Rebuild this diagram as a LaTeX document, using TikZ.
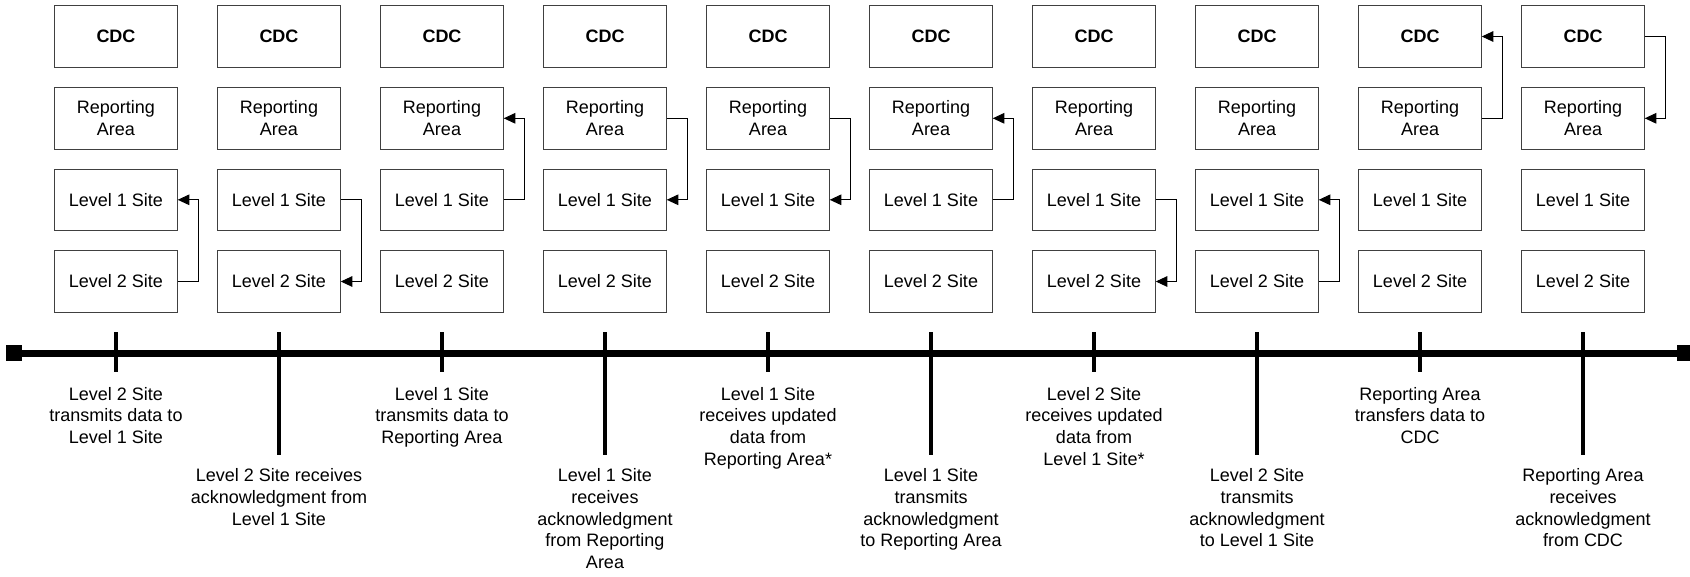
\documentclass[tikz,border=0pt]{standalone}
\usepackage{fontspec}
\setmainfont{Liberation Sans}
\usetikzlibrary{arrows.meta}
\begin{document}
\begin{tikzpicture}[x=1pt,y=-1pt,
  box/.style={draw=black!75, line width=1pt, minimum width=122.5pt, minimum height=61.5pt, inner sep=0pt, align=center, font=\fontsize{18}{21.5}\selectfont},
  conn/.style={line width=1pt, -{Triangle[length=11.5pt,width=10.5pt]}},
  lbl/.style={anchor=north, align=center, inner sep=0pt, font=\fontsize{18}{21.7}\selectfont},
  tick/.style={line width=3.2pt},
  endsq/.style={fill=black, minimum size=16pt, inner sep=0pt, draw=none}]
\useasboundingbox (0,0) rectangle (1690,576);
% boxes
\foreach \i in {1,...,10}{
  \pgfmathsetmacro{\cx}{116+163*(\i-1)}
  \node[box] (cdc\i) at (\cx,36.5) {\textbf{CDC}};
  \node[box] (ra\i) at (\cx,118.3) {Reporting\\Area};
  \node[box] (la\i) at (\cx,199.8) {Level 1 Site};
  \node[box] (lb\i) at (\cx,281.5) {Level 2 Site};
}
% connectors
\draw[conn] (lb1.east) -- ++(20.5,0) |- (la1.east);
\draw[conn] (la2.east) -- ++(20.5,0) |- (lb2.east);
\draw[conn] (la3.east) -- ++(20.5,0) |- (ra3.east);
\draw[conn] (ra4.east) -- ++(20.5,0) |- (la4.east);
\draw[conn] (ra5.east) -- ++(20.5,0) |- (la5.east);
\draw[conn] (la6.east) -- ++(20.5,0) |- (ra6.east);
\draw[conn] (la7.east) -- ++(20.5,0) |- (lb7.east);
\draw[conn] (lb8.east) -- ++(20.5,0) |- (la8.east);
\draw[conn] (ra9.east) -- ++(20.5,0) |- (cdc9.east);
\draw[conn] (cdc10.east) -- ++(20.5,0) |- (ra10.east);
% timeline
\node[endsq] (tl) at (14,353) {};
\node[endsq] (tr) at (1685,353) {};
\draw[line width=7pt] (tl.center) -- (tr.center);
% ticks
\foreach \i in {1,3,5,7,9}{
  \pgfmathsetmacro{\cx}{116+163*(\i-1)}
  \draw[tick] (\cx,332.3) -- (\cx,372.3);
}
\foreach \i in {2,4,6,8,10}{
  \pgfmathsetmacro{\cx}{116+163*(\i-1)}
  \draw[tick] (\cx,332.3) -- (\cx,454.5);
}
% labels
\node[lbl] (t1) at (116,387) {Level 2 Site\\transmits data to\\Level 1 Site};
\node[lbl] (t2) at (279,468.5) {Level 2 Site receives\\acknowledgment from\\Level 1 Site};
\node[lbl] (t3) at (442,387) {Level 1 Site\\transmits data to\\Reporting Area};
\node[lbl] (t4) at (605,468.5) {Level 1 Site\\receives\\acknowledgment\\from Reporting\\Area};
\node[lbl] (t5) at (768,387) {Level 1 Site\\receives updated\\data from\\Reporting Area*};
\node[lbl] (t6) at (931,468.5) {Level 1 Site\\transmits\\acknowledgment\\to Reporting Area};
\node[lbl] (t7) at (1094,387) {Level 2 Site\\receives updated\\data from\\Level 1 Site*};
\node[lbl] (t8) at (1257,468.5) {Level 2 Site\\transmits\\acknowledgment\\to Level 1 Site};
\node[lbl] (t9) at (1420,387) {Reporting Area\\transfers data to\\CDC};
\node[lbl] (t10) at (1583,468.5) {Reporting Area\\receives\\acknowledgment\\from CDC};
\end{tikzpicture}
\end{document}
